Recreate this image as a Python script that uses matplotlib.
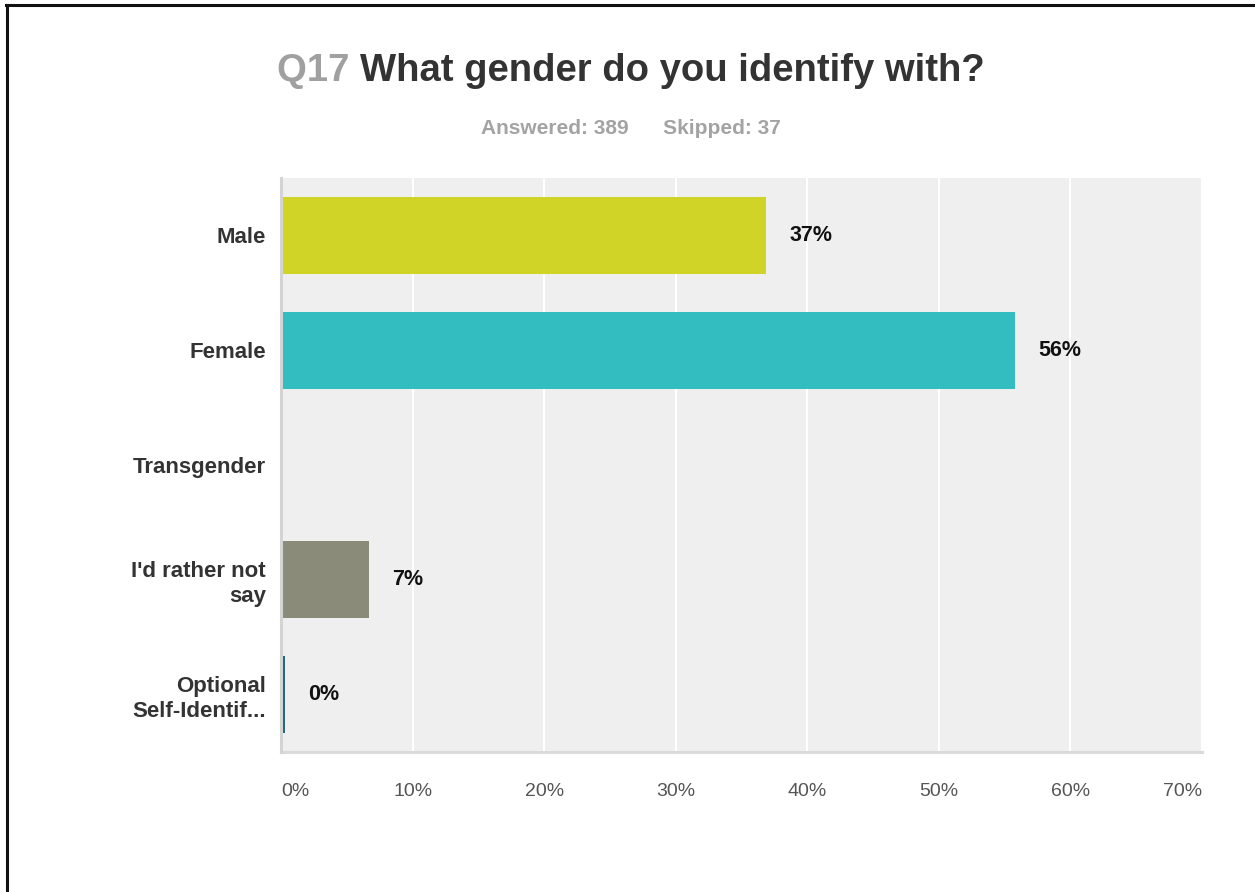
import matplotlib
matplotlib.use("Agg")
import matplotlib.pyplot as plt
from matplotlib.lines import Line2D

plt.rcParams["font.family"] = ["Liberation Sans", "DejaVu Sans"]

# Survey responses (percent of respondents)
categories = ["Male", "Female", "Transgender", "I'd rather not\nsay", "Optional\nSelf-Identif..."]
percents = [36.9, 55.8, 0.0, 6.7, 0.3]
show_label = [True, True, False, True, True]
bar_colors = ["#D0D426", "#33BDC0", "#D0D0D0", "#8B8B79", "#25667A"]
x_ticks = [0, 10, 20, 30, 40, 50, 60, 70]
x_tick_labels = [f"{t}%" for t in x_ticks]

question_no = "Q17"
question = "What gender do you identify with?"
answered = 389
skipped = 37

W, H, DPI = 1255, 892, 100
fig = plt.figure(figsize=(W / DPI, H / DPI), dpi=DPI)
fig.patch.set_facecolor("white")

ax = fig.add_axes([281 / W, 1 - 752 / H, (1202 - 281) / W, (752 - 178) / H])
ax.set_facecolor("#EFEFEF")

ypos = list(range(len(categories)))
ax.barh(ypos, percents, height=0.67, color=bar_colors, zorder=3)

for y, v, show in zip(ypos, percents, show_label):
    if show:
        ax.annotate(f"{round(v)}%", xy=(v, y), xytext=(16.5, 0),
                    textcoords="offset points", ha="left", va="center",
                    fontsize=15.5, fontweight="bold", color="#111111")

ax.set_xlim(0, 70)
ax.set_ylim(len(categories) - 0.5, -0.5)
ax.set_yticks(ypos)
ax.set_yticklabels(categories, fontsize=16, fontweight="bold", color="#333333",
                   linespacing=1.25)
ax.set_xticks(x_ticks)
ax.set_xticklabels(x_tick_labels, fontsize=14, color="#555555")
xt = ax.get_xticklabels()
xt[0].set_ha("left")
xt[-1].set_ha("right")
ax.tick_params(axis="x", length=0, pad=22)
ax.tick_params(axis="y", length=0, pad=11)

ax.grid(axis="x", color="white", linewidth=1.5, zorder=1)
ax.set_axisbelow(True)
for side in ["top", "right"]:
    ax.spines[side].set_visible(False)
ax.spines["left"].set_color("#D4D4D4")
ax.spines["left"].set_linewidth(2.2)
ax.spines["bottom"].set_color("#DADADA")
ax.spines["bottom"].set_linewidth(2.2)
ax.spines["left"].set_zorder(4)

# Two-tone title, centred as one line
renderer = fig.canvas.get_renderer()
ty = 1 - 71 / H
t1 = fig.text(0, ty, question_no + " ", fontsize=27.5, fontweight="bold",
              color="#A0A0A0", va="center", ha="left")
t2 = fig.text(0, ty, question, fontsize=27.5, fontweight="bold",
              color="#333333", va="center", ha="left")
w1 = t1.get_window_extent(renderer).width / W
w2 = t2.get_window_extent(renderer).width / W
x0 = 631 / W - (w1 + w2) / 2
t1.set_x(x0)
t2.set_x(x0 + w1)

fig.text(631 / W, 1 - 128 / H, f"Answered: {answered}      Skipped: {skipped}",
         fontsize=15, fontweight="bold", color="#A3A3A3", ha="center", va="center")

# Frame lines along the top and left edge
fig.add_artist(Line2D([6 / W, 1.0], [1 - 5 / H, 1 - 5 / H], transform=fig.transFigure,
                      color="#111111", linewidth=2.2))
fig.add_artist(Line2D([7 / W, 7 / W], [1 - 5 / H, 0.0], transform=fig.transFigure,
                      color="#111111", linewidth=2.2))

fig.savefig("out.png", dpi=DPI)
